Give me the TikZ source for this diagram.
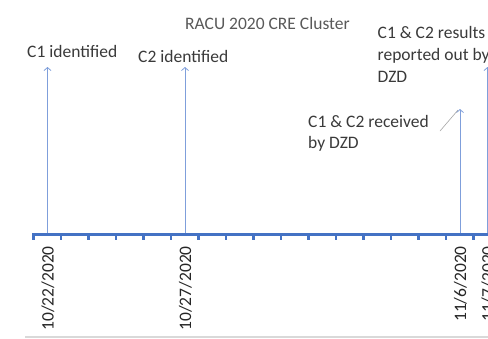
\documentclass[tikz,border=0pt]{standalone}
\usepackage{fontspec}
\setmainfont{Carlito}
\usetikzlibrary{arrows.meta,positioning}
\definecolor{axisblue}{HTML}{4472C4}
\definecolor{arrowblue}{HTML}{7F9FDB}
\definecolor{labelgray}{HTML}{3A3A3A}
\definecolor{titlegray}{HTML}{595959}
\definecolor{leadgray}{HTML}{A6A6A6}
\definecolor{rulegray}{HTML}{D9D9D9}

\begin{document}
\begin{tikzpicture}[x=1pt, y=-1pt, >=Stealth,
  event/.style={font=\fontsize{17.5}{22}\selectfont, text=labelgray,
    anchor=base west, inner sep=0pt, align=left},
  multievent/.style={event, anchor=north west},
  datelabel/.style={font=\fontsize{17.5}{20}\selectfont, text=black!85,
    rotate=90, anchor=base east, inner sep=0pt},
  marker/.style={draw=arrowblue, line width=0.8pt,
    -{Straight Barb[length=3pt,width=7pt]}},
  leader/.style={draw=leadgray, line width=0.6pt}]

  % canvas
  \useasboundingbox[fill=white] (0,0) rectangle (488,338);
  \clip (0,0) rectangle (488,338);

  %-------------------------
  % Title
  %-------------------------
  \node[event, text=titlegray] (title) at (185,29) {RACU 2020 CRE Cluster};

  %-------------------------
  % Time axis with day ticks
  %-------------------------
  \coordinate (axisL) at (33.5,234);
  \coordinate (axisR) at (492,234);
  \foreach \n in {0,...,16}
    \draw[axisblue, line width=2.2pt] ({33.5+27.5*\n},233) -- ++(0,6.5);
  \draw[axisblue, line width=3pt] (axisL) -- (axisR);

  % Event positions
  \foreach \n/\tip/\nm in {0/67/cone, 5/67/ctwo, 15/109/recv, 16/67/rept} {
    \coordinate (\nm-base) at ({47.5+27.5*\n},233);
    \coordinate (\nm-tip) at ({47.5+27.5*\n},\tip);
  }

  % Arrows
  \foreach \nm in {cone, ctwo, recv, rept}
    \draw[marker] (\nm-base) -- (\nm-tip);

  % Dates under the axis
  \foreach \n/\dt in {0/{10/22/2020}, 5/{10/27/2020}, 15/{11/6/2020}, 16/{11/7/2020}}
    \node[datelabel] (date\n) at ({53.5+27.5*\n},246) {\dt};

  %-------------------------
  % Event labels
  %-------------------------
  \node[event] (cone-lbl) at (27,57) {C1 identified};
  \node[event] (ctwo-lbl) at (138,62) {C2 identified};
  \node[multievent] (rept-lbl) at (377.5,26) {C1 \& C2 results\\reported out by\\DZD};
  \node[multievent, font=\fontsize{17.5}{21}\selectfont] (recv-lbl) at (308,115)
    {C1 \& C2 received\\by DZD};

  % leader from label to arrow
  \coordinate (recv-lead) at (440,131);
  \coordinate (recv-end) at (458,110);
  \draw[leader] (recv-lead) -- (recv-end);

  % bottom rule
  \draw[rulegray, line width=2pt] (25,337) -- (492,337);

\end{tikzpicture}
\end{document}
